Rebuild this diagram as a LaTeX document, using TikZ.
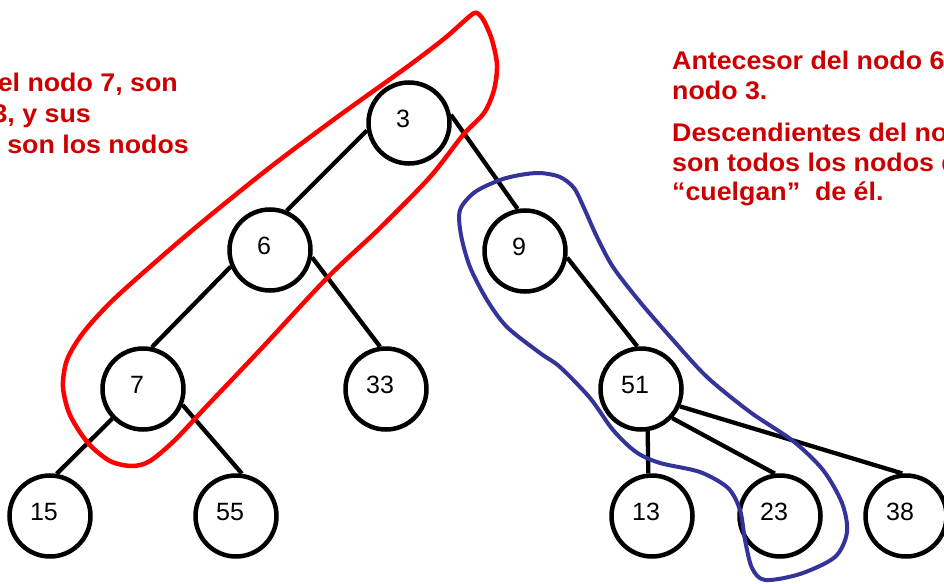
\documentclass[tikz,border=0pt]{standalone}
\usepackage{fontspec}
\setmainfont{Liberation Sans}
\newfontfamily\notefont[FakeStretch=1.05,Ligatures=TeX]{Liberation Sans}
\definecolor{txtred}{HTML}{CC0000}
\definecolor{loopred}{HTML}{FF0000}
\definecolor{loopblue}{HTML}{333399}
\newcommand\tlab[1]{\raisebox{-4.5pt}[0pt][0pt]{\makebox[0pt]{\kern-12pt #1}}}
\begin{document}
\begin{tikzpicture}[x=1pt,y=-1pt,
  tn/.style={circle,draw=black,line width=4.5pt,fill=white,minimum size=81pt,inner sep=0pt,font=\fontsize{25}{30}\selectfont},
  edge/.style={draw=black,line width=4.3pt},
  note/.style={text=txtred,font=\notefont\bfseries\fontsize{25.5}{30}\selectfont,inner sep=0pt},
  redloop/.style={draw=loopred,line width=4.5pt,line join=round},
  blueloop/.style={draw=loopblue,line width=4pt,line join=round}]
\clip (0,0) rectangle (944,583);
\fill[white] (0,0) rectangle (944,583);

% nodes
\node[tn] (n3)  at (409,123) {\tlab{3}};
\node[tn] (n6)  at (270,250) {\tlab{6}};
\node[tn] (n9)  at (525,251) {\tlab{9}};
\node[tn] (n7)  at (143,389) {\tlab{7}};
\node[tn] (n33) at (386,389) {\tlab{33}};
\node[tn] (n51) at (641,389) {\tlab{51}};
\node[tn] (n15) at (50,516)  {\tlab{15}};
\node[tn] (n55) at (236,516) {\tlab{55}};
\node[tn] (n13) at (652,516) {\tlab{13}};
\node[tn] (n23) at (780,516) {\tlab{23}};
\node[tn] (n38) at (906,516) {\tlab{38}};

% edges
\draw[edge] (n3.190) -- (n6.67);
\draw[edge] (n3.11) -- (n9.100);
\draw[edge] (n6.203) -- (n7.78);
\draw[edge] (n6.350) -- (n33.98);
\draw[edge] (n7.224) -- (n15.81);
\draw[edge] (n7.338) -- (n55.82);
\draw[edge] (n9.351) -- (n51.95);
\draw[edge] (n51.279) -- (n13.95);
\draw[edge] (n51.317) -- (n23.97);
\draw[edge] (n51.336) -- (n38.95);

% texts
\node[note,anchor=base east] (l1) at (178,92) {Antecesores del nodo 7, son};
\node[note,anchor=base east] (l2) at (91,123) {los nodos 6 y 3, y sus};
\node[note,anchor=base east] (l3) at (189,153) {descendientes son los nodos};
\node[note,anchor=base west] (r1) at (672,70) {Antecesor del nodo 6, es el};
\node[note,anchor=base west] (r2) at (672,100) {nodo 3.};
\node[note,anchor=base west] (r3) at (672,141) {Descendientes del nodo 9,};
\node[note,anchor=base west] (r4) at (672,171) {son todos los nodos que};
\node[note,anchor=base west] (r5) at (672,200) {“cuelgan”\ \ de él.};

% loops
\draw[redloop] plot[smooth cycle,tension=0.5] coordinates {
 (477,13) (484,21) (492,40) (497,65) (494,90) (484,113) (463,135) (430,177)
 (380,228) (328,277) (260,350) (205,408) (175,440) (150,461) (132,466)
 (110,461) (88,443) (70,415) (63,387) (67,360) (83,333) (112,301) (160,258)
 (207,218) (273,165) (340,115) (407,67) (445,38) (470,16)};
\draw[blueloop] plot[smooth cycle,tension=0.5] coordinates {
 (540,173) (560,177) (574,188) (584,208) (597,237) (613,267) (640,302)
 (673,340) (707,377) (750,412) (793,441) (823,470) (842,503) (847,532)
 (835,557) (800,574) (765,580) (752,568) (745,540) (740,510) (728,488)
 (700,472) (660,463) (636,452) (613,430) (590,398) (560,367) (540,353)
 (507,327) (487,300) (470,267) (461,235) (460,210) (475,192) (500,180) (520,175)};
\end{tikzpicture}
\end{document}
